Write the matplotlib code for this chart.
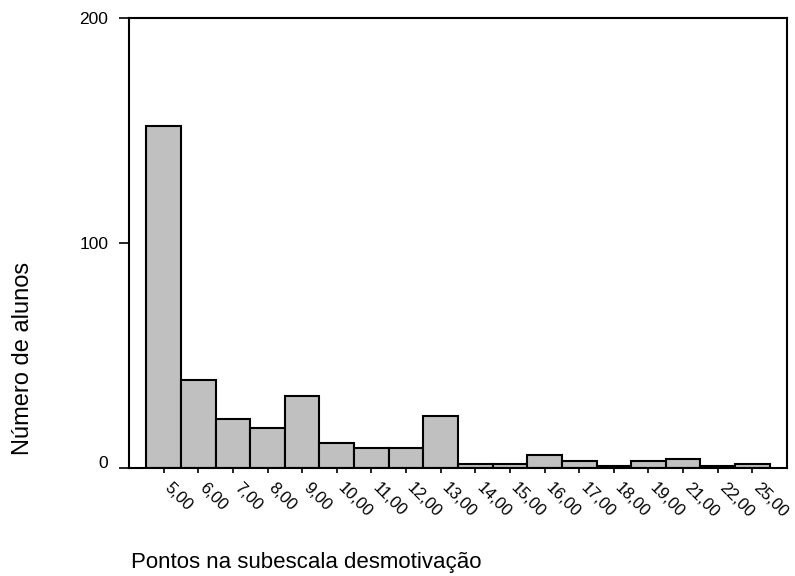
import matplotlib
matplotlib.use("Agg")
import matplotlib.pyplot as plt
import matplotlib.transforms as mtransforms

plt.rcParams['font.family'] = ['Liberation Sans', 'DejaVu Sans']

# Pontos na subescala e número de alunos
pontos = ['5,00', '6,00', '7,00', '8,00', '9,00', '10,00', '11,00', '12,00', '13,00',
          '14,00', '15,00', '16,00', '17,00', '18,00', '19,00', '21,00', '22,00', '25,00']
alunos = [152, 39, 22, 18, 32, 11, 9, 9, 23, 2, 2, 6, 3, 1, 3, 4, 1, 2]

y_ticks = [0, 100, 200]

fig = plt.figure(figsize=(7.95, 5.76), dpi=100)
ax = fig.add_axes([129 / 795, 1 - 468 / 576, (787 - 129) / 795, (468 - 18) / 576])

x = list(range(len(pontos)))
ax.bar(x, alunos, width=1.0, color='#c0c0c0', edgecolor='black', linewidth=1.5)

ax.set_xlim(-1, len(pontos))
ax.set_ylim(0, 200)

for lado in ['left', 'right', 'top', 'bottom']:
    ax.spines[lado].set_linewidth(1.5)

ax.set_yticks(y_ticks)
ax.set_yticklabels([str(v) for v in y_ticks], fontsize=12.5)
ax.tick_params(axis='y', length=7, width=1.2, pad=8)

# o "0" fica um pouco acima da linha do eixo
sobe = mtransforms.ScaledTranslation(0, 0.06, fig.dpi_scale_trans)
rot0 = ax.get_yticklabels()[0]
rot0.set_transform(rot0.get_transform() + sobe)

ax.set_xticks(x)
ax.set_xticklabels(pontos, fontsize=12, rotation=-45, ha='left', va='top',
                   rotation_mode='anchor')
ax.tick_params(axis='x', length=3.6, width=1.2, pad=5)

# corremos os rótulos do eixo x um pouco para a direita
desloc = mtransforms.ScaledTranslation(0.09, 0, fig.dpi_scale_trans)
for rotulo in ax.get_xticklabels():
    rotulo.set_transform(rotulo.get_transform() + desloc)

fig.text(23 / 795, 1 - 358 / 576, 'Número de alunos', rotation=90,
         ha='center', va='center', fontsize=17)
fig.text(131 / 795, 1 - 568 / 576, 'Pontos na subescala desmotivação',
         ha='left', va='baseline', fontsize=16)

fig.savefig('out.png', dpi=100)
